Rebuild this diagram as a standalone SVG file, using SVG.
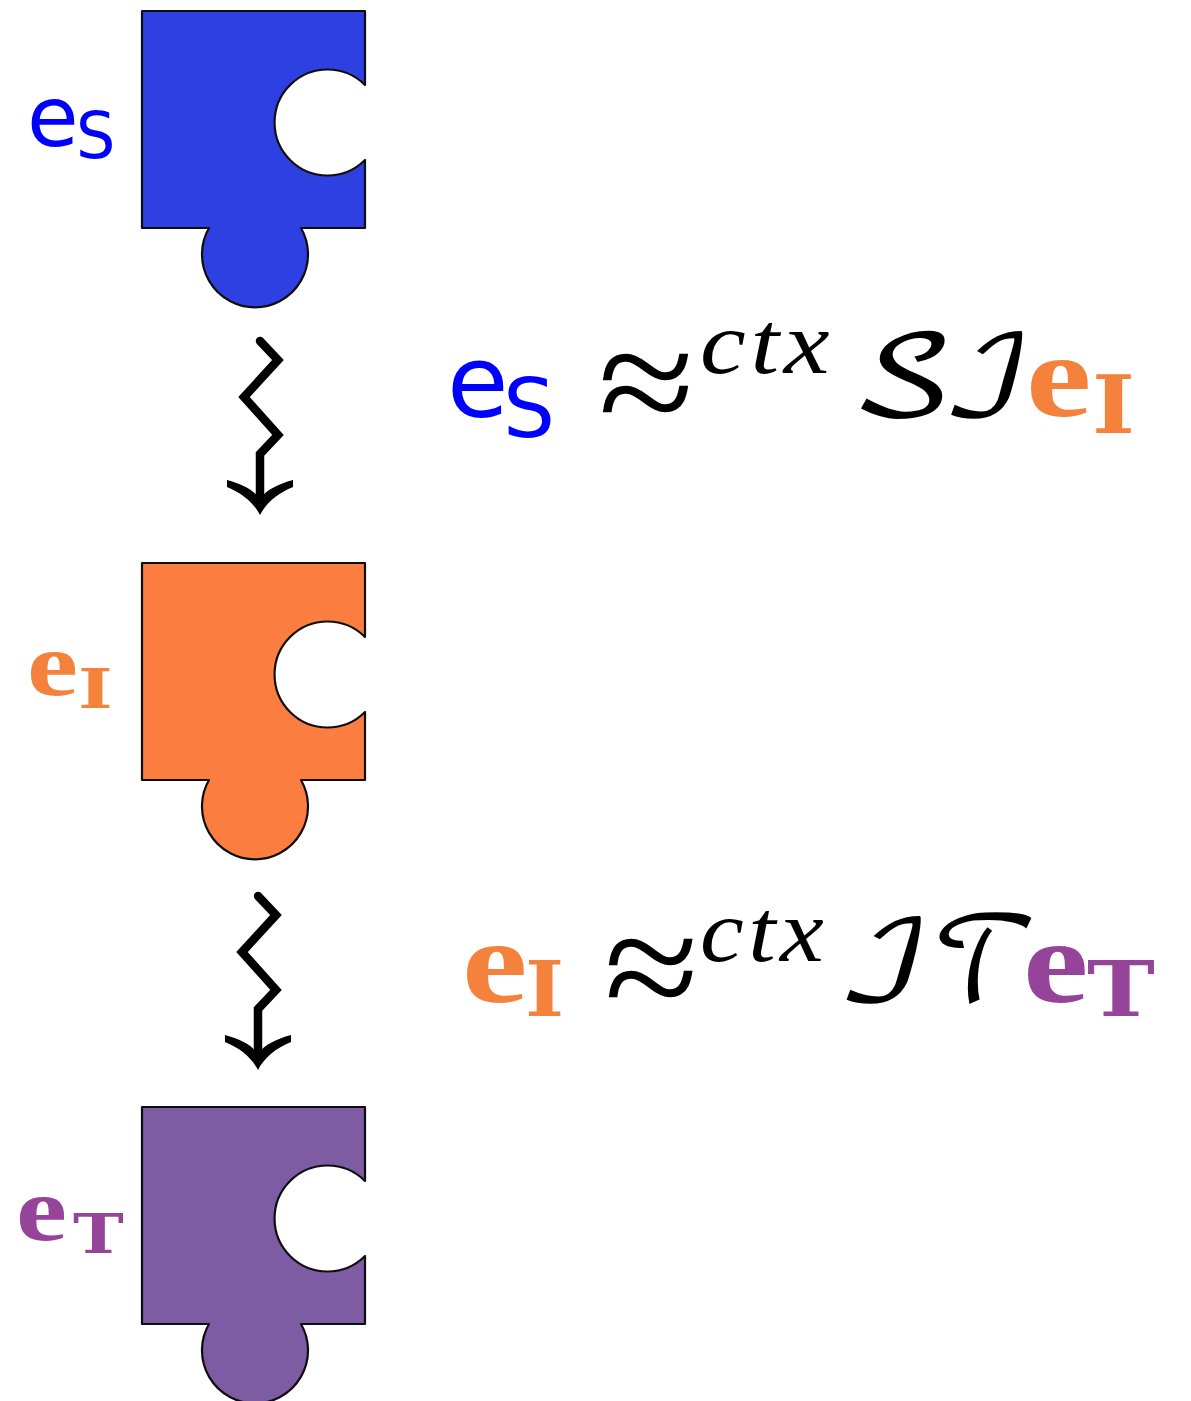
<svg xmlns="http://www.w3.org/2000/svg" width="1191" height="1401" viewBox="0 0 1191 1401">
<defs>
<filter id="soft" x="-5%" y="-5%" width="110%" height="110%"><feGaussianBlur stdDeviation="0.6"/></filter>
<path id="piece" d="M142 11H365V85A53 53 0 1 0 365 160V228H301A53 53 0 1 1 209 228H142Z"/>
<path id="arrow" d="M0 0L18 19L-16 56L18 94L0 113V162"/>
<path id="head" d="M-33 139C-18 143 -6 149 0 158C6 149 18 143 33 139L33 146C18 152 6 162 0 174C-6 162 -18 152 -33 146Z"/>
</defs>
<style>
.pc{stroke:#111;stroke-width:2.2;stroke-linejoin:round;filter:url(#soft)}
.ln{fill:none;stroke:#000;stroke-width:8.5;stroke-linecap:round;stroke-linejoin:miter}
.sans{font-family:"DejaVu Sans",sans-serif}
.ser{font-family:"DejaVu Serif",serif;font-weight:bold}
.lib{font-family:"Liberation Serif",serif;font-weight:bold}
.rel{font-family:"Liberation Serif",serif;fill:#000}
.math{font-family:"DejaVu Math TeX Gyre","Liberation Serif",serif;fill:#000}
.it{font-family:"Liberation Serif",serif;font-style:italic;fill:#000}
.b{fill:#0000ff}.o{fill:#f5823c}.p{fill:#964499}
</style>
<rect width="1191" height="1401" fill="#fff"/>
<g id="node-s"><use href="#piece" class="pc" fill="#2f41e2"/>
<text class="sans b" transform="translate(27 146)" font-size="84">e</text>
<text class="sans b" transform="translate(76 158) scale(1 1.03)" font-size="62">S</text></g>
<g id="node-i"><use href="#piece" class="pc" fill="#fb7e41" y="552"/>
<text class="lib o" transform="translate(27 695) scale(1.25 1)" font-size="92">e</text>
<text class="ser o" transform="translate(78 708) scale(1.35 1)" font-size="55">I</text></g>
<g id="node-t"><use href="#piece" class="pc" fill="#7e5ba4" y="1096"/>
<text class="lib p" transform="translate(16 1240) scale(1.25 1)" font-size="92">e</text>
<text class="ser p" transform="translate(73 1253) scale(1.24 1)" font-size="55">T</text></g>
<g id="connectors">
<g transform="translate(260 341)"><use href="#arrow" class="ln"/><use href="#head"/></g>
<g transform="translate(258 896)"><use href="#arrow" class="ln"/><use href="#head"/></g>
</g>
<g id="eq-1">
<text class="sans b" transform="translate(447 417)" font-size="100">e</text>
<text class="sans b" transform="translate(503 437)" font-size="82">S</text>
<text class="rel" transform="translate(598 436) scale(1.1 1)" font-size="160">≈</text>
<text class="it" transform="translate(700 373) scale(1.17 1)" font-size="88" letter-spacing="4">ctx</text>
<text class="math" transform="translate(850 415) scale(1.25 1)" font-size="110">𝒮</text>
<text class="math" transform="translate(941 415) scale(1.15 1)" font-size="110">ℐ</text>
<text class="lib o" transform="translate(1026 416) scale(1.25 1)" font-size="118">e</text>
<text class="ser o" transform="translate(1092 433) scale(1.15 1)" font-size="80">I</text>
</g>
<g id="eq-2">
<text class="lib o" transform="translate(462 1002) scale(1.25 1)" font-size="118">e</text>
<text class="ser o" transform="translate(525 1016) scale(1.1 1)" font-size="76">I</text>
<text class="rel" transform="translate(604 1021) scale(1.08 1)" font-size="160">≈</text>
<text class="it" transform="translate(700 961) scale(1.12 1)" font-size="88" letter-spacing="4">ctx</text>
<text class="math" transform="translate(836 1000) scale(1.2 1)" font-size="110">ℐ</text>
<text class="math" transform="translate(931 1002) scale(.96 1.05)" font-size="110">𝒯</text>
<text class="lib p" transform="translate(1023 1002) scale(1.25 1)" font-size="118">e</text>
<text class="ser p" transform="translate(1087 1016) scale(1.2 1)" font-size="76">T</text>
</g>
</svg>
